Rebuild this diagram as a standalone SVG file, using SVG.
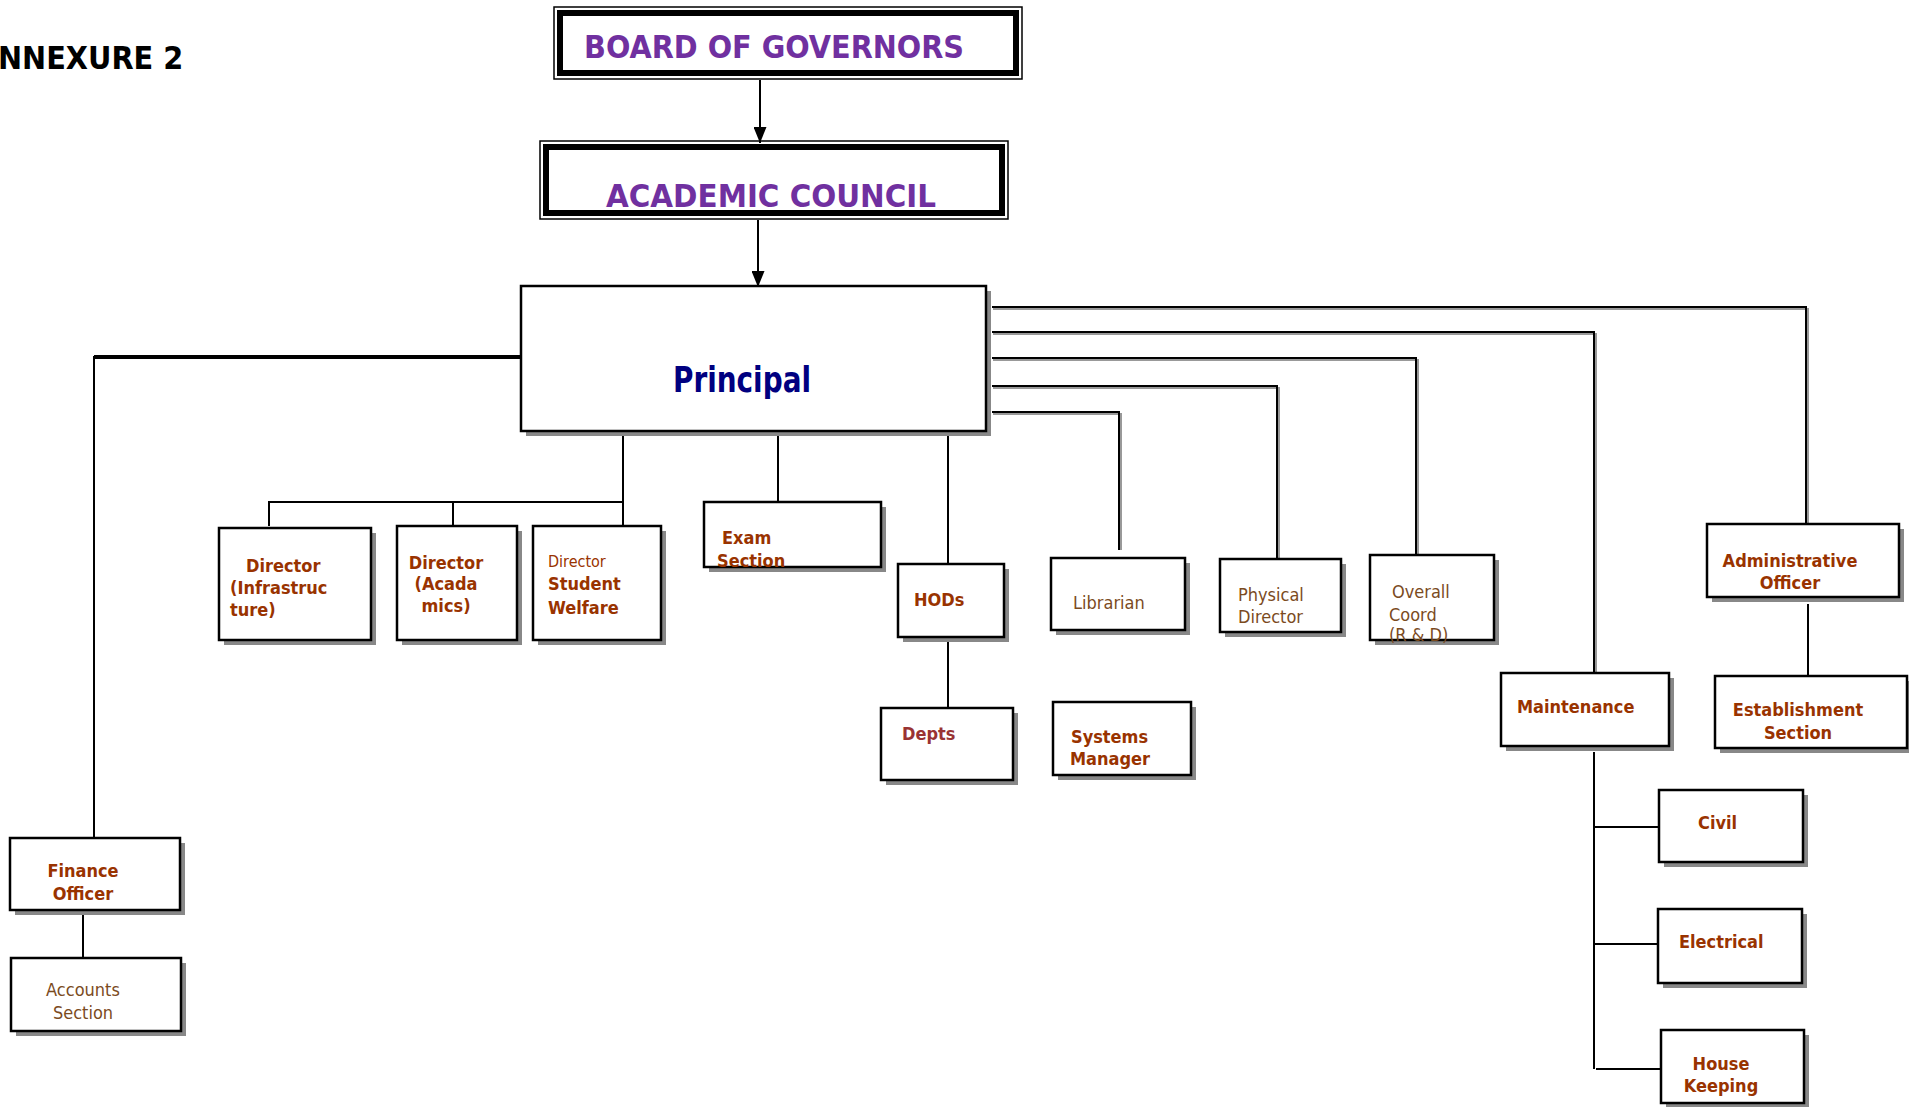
<svg xmlns="http://www.w3.org/2000/svg" width="1909" height="1107" viewBox="0 0 1909 1107">
<defs>
<marker id="arr" viewBox="0 0 16 13" refX="16" refY="6.5" markerWidth="16" markerHeight="13" markerUnits="userSpaceOnUse" orient="auto">
<path d="M0,0 L16,6.5 L0,13 Z" fill="#000"/>
</marker>
</defs>
<style>
text{font-family:"DejaVu Sans Condensed","DejaVu Sans",Tahoma,sans-serif}
.box{fill:#fff;stroke:#000;stroke-width:2.5}
.sh{fill:#888}
.b{font-weight:bold;font-size:18px;fill:#993300}
.n{font-size:18px;fill:#7B4B1E}
.ln{fill:none;stroke:#000;stroke-width:2}
.lns{fill:none;stroke:#999;stroke-width:2}
.title{font-weight:bold;font-size:32px;fill:#7030A0}
</style>
<rect width="1909" height="1107" fill="#fff"/>
<text x="-2" y="69" style="font-weight:bold;font-size:32px;fill:#000">NNEXURE 2</text>

<g id="bog">
<rect x="554" y="7" width="468" height="72" fill="#fff" stroke="#000" stroke-width="1.5"/>
<rect x="560" y="13" width="456" height="60" fill="#fff" stroke="#000" stroke-width="6"/>
<text class="title" x="584" y="58" textLength="380" lengthAdjust="spacingAndGlyphs">BOARD OF GOVERNORS</text>
</g>
<g id="academic-council">
<rect x="540" y="141" width="468" height="78" fill="#fff" stroke="#000" stroke-width="1.5"/>
<rect x="546" y="147" width="456" height="66" fill="#fff" stroke="#000" stroke-width="6"/>
<text class="title" x="606" y="207" textLength="330" lengthAdjust="spacingAndGlyphs">ACADEMIC COUNCIL</text>
</g>
<g id="principal">
<rect class="sh" x="526" y="291" width="465" height="145"/>
<rect class="box" x="521" y="286" width="465" height="145"/>
<text x="673" y="392" textLength="138" lengthAdjust="spacingAndGlyphs" style="font-weight:bold;font-size:36px;fill:#000080">Principal</text>
</g>

<g id="connectors">
<line class="ln" x1="760" y1="80" x2="760" y2="143" marker-end="url(#arr)"/>
<line class="ln" x1="758" y1="220" x2="758" y2="287" marker-end="url(#arr)"/>
<path d="M521,357 H94 V838" fill="none" stroke="#000" stroke-width="2"/>
<line x1="94" y1="357" x2="521" y2="357" stroke="#000" stroke-width="4"/>
<line class="ln" x1="83" y1="910" x2="83" y2="958"/>
<path class="ln" d="M623,436 V525 M623,502 H269 V526 M453,502 V526"/>
<path class="ln" d="M778,436 V502"/>
<path class="ln" d="M948,436 V564 M948,637 V708"/>
<path class="lns" d="M993,414 H1121 V550 M993,388 H1279 V559 M993,360 H1418 V555 M993,334 H1596 V673 M993,309 H1808 V524"/>
<path class="ln" d="M992,412 H1119 V550 M992,386 H1277 V559 M992,358 H1416 V555 M992,332 H1594 V673 M992,307 H1806 V524"/>
<path class="ln" d="M1808,604 V676"/>
<path class="ln" d="M1594,752 V1069 M1594,827 H1659 M1594,944 H1658 M1596,1069 H1661"/>
</g>

<g id="finance-officer">
<rect class="sh" x="15" y="843" width="170" height="72"/>
<rect class="box" x="10" y="838" width="170" height="72"/>
<text class="b" text-anchor="middle"><tspan x="83" y="877">Finance</tspan><tspan x="83" y="900">Officer</tspan></text>
</g>
<g id="accounts-section">
<rect class="sh" x="16" y="963" width="170" height="73"/>
<rect class="box" x="11" y="958" width="170" height="73"/>
<text class="n" text-anchor="middle"><tspan x="83" y="996">Accounts</tspan><tspan x="83" y="1019">Section</tspan></text>
</g>

<g id="dir-infra">
<rect class="sh" x="224" y="533" width="152" height="112"/>
<rect class="box" x="219" y="528" width="152" height="112"/>
<text class="b"><tspan x="246" y="572">Director</tspan><tspan x="230" y="594">(Infrastruc</tspan><tspan x="230" y="616">ture)</tspan></text>
</g>
<g id="dir-acad">
<rect class="sh" x="402" y="531" width="120" height="114"/>
<rect class="box" x="397" y="526" width="120" height="114"/>
<text class="b" text-anchor="middle"><tspan x="446" y="569">Director</tspan><tspan x="446" y="590">(Acada</tspan><tspan x="446" y="612">mics)</tspan></text>
</g>
<g id="dir-sw">
<rect class="sh" x="538" y="531" width="128" height="114"/>
<rect class="box" x="533" y="526" width="128" height="114"/>
<text class="b"><tspan x="548" y="567" style="font-weight:normal;font-size:16px">Director</tspan><tspan x="548" y="590">Student</tspan><tspan x="548" y="614">Welfare</tspan></text>
</g>
<g id="exam-section">
<rect class="sh" x="709" y="507" width="177" height="65"/>
<rect class="box" x="704" y="502" width="177" height="65"/>
<text class="b"><tspan x="722" y="544">Exam</tspan><tspan x="717" y="567">Section</tspan></text>
</g>
<g id="hods">
<rect class="sh" x="903" y="569" width="106" height="73"/>
<rect class="box" x="898" y="564" width="106" height="73"/>
<text class="b" x="914" y="606">HODs</text>
</g>
<g id="depts">
<rect class="sh" x="886" y="713" width="132" height="72"/>
<rect class="box" x="881" y="708" width="132" height="72"/>
<text class="b" x="902" y="740" style="fill:#993333">Depts</text>
</g>
<g id="librarian">
<rect class="sh" x="1056" y="563" width="134" height="72"/>
<rect class="box" x="1051" y="558" width="134" height="72"/>
<text class="n" x="1073" y="609">Librarian</text>
</g>
<g id="systems-manager">
<rect class="sh" x="1058" y="707" width="138" height="73"/>
<rect class="box" x="1053" y="702" width="138" height="73"/>
<text class="b"><tspan x="1071" y="743">Systems</tspan><tspan x="1070" y="765">Manager</tspan></text>
</g>
<g id="physical-director">
<rect class="sh" x="1225" y="564" width="121" height="73"/>
<rect class="box" x="1220" y="559" width="121" height="73"/>
<text class="n"><tspan x="1238" y="601">Physical</tspan><tspan x="1238" y="623">Director</tspan></text>
</g>
<g id="overall-coord">
<rect class="sh" x="1375" y="560" width="124" height="85"/>
<rect class="box" x="1370" y="555" width="124" height="85"/>
<text class="n"><tspan x="1392" y="598">Overall</tspan><tspan x="1389" y="621">Coord</tspan><tspan x="1389" y="641">(R &amp; D)</tspan></text>
</g>
<g id="maintenance">
<rect class="sh" x="1506" y="678" width="168" height="73"/>
<rect class="box" x="1501" y="673" width="168" height="73"/>
<text class="b" x="1517" y="713">Maintenance</text>
</g>
<g id="civil">
<rect class="sh" x="1664" y="795" width="144" height="72"/>
<rect class="box" x="1659" y="790" width="144" height="72"/>
<text class="b" x="1698" y="829">Civil</text>
</g>
<g id="electrical">
<rect class="sh" x="1663" y="914" width="144" height="74"/>
<rect class="box" x="1658" y="909" width="144" height="74"/>
<text class="b" x="1679" y="948">Electrical</text>
</g>
<g id="house-keeping">
<rect class="sh" x="1666" y="1035" width="143" height="73"/>
<rect class="box" x="1661" y="1030" width="143" height="73"/>
<text class="b" text-anchor="middle"><tspan x="1721" y="1070">House</tspan><tspan x="1721" y="1092">Keeping</tspan></text>
</g>
<g id="admin-officer">
<rect class="sh" x="1712" y="529" width="192" height="73"/>
<rect class="box" x="1707" y="524" width="192" height="73"/>
<text class="b" text-anchor="middle"><tspan x="1790" y="567">Administrative</tspan><tspan x="1790" y="589">Officer</tspan></text>
</g>
<g id="establishment">
<rect class="sh" x="1720" y="681" width="192" height="72"/>
<rect class="box" x="1715" y="676" width="192" height="72"/>
<text class="b" text-anchor="middle"><tspan x="1798" y="716">Establishment</tspan><tspan x="1798" y="739">Section</tspan></text>
</g>
</svg>
